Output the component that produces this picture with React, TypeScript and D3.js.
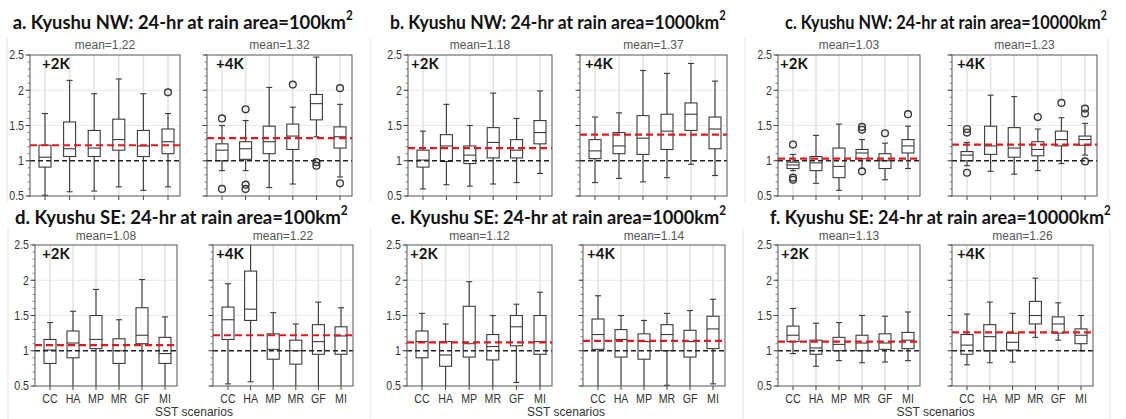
import React, { useLayoutEffect, useRef, useState } from 'react';
import * as d3 from 'd3';

type Stat = [number, number, number, number, number]; // lo, q1, median, q3, hi

const categories = ['CC', 'HA', 'MP', 'MR', 'GF', 'MI'];
const yMajorTicks = [0.5, 1, 1.5, 2, 2.5];
const yGridValues = [1.5, 2];
const warmingLabels = ['+2K', '+4K'];

const panelLetters = ['a', 'b', 'c', 'd', 'e', 'f'];
const panelRegions = ['Kyushu NW', 'Kyushu NW', 'Kyushu NW', 'Kyushu SE', 'Kyushu SE', 'Kyushu SE'];
const panelAreas = ['100', '1000', '10000', '100', '1000', '10000'];
const panelMeans = [[1.22, 1.32], [1.18, 1.37], [1.03, 1.23], [1.08, 1.22], [1.12, 1.14], [1.13, 1.26]];

// ---- a. Kyushu NW 100km2
const a2K: Stat[] = [
  [0.51, 0.91, 1.05, 1.22, 1.67],
  [0.56, 1.06, 1.17, 1.55, 2.14],
  [0.57, 1.06, 1.18, 1.43, 1.95],
  [0.63, 1.15, 1.30, 1.59, 2.16],
  [0.58, 1.06, 1.21, 1.43, 1.95],
  [0.63, 1.10, 1.27, 1.45, 1.67],
];
const a2KOut = [[], [], [], [], [], [1.97]];
const a4K: Stat[] = [
  [0.86, 1.00, 1.15, 1.24, 1.50],
  [0.86, 1.02, 1.17, 1.27, 1.57],
  [0.62, 1.10, 1.27, 1.49, 2.04],
  [0.67, 1.16, 1.35, 1.52, 1.76],
  [1.34, 1.58, 1.81, 1.94, 2.47],
  [0.77, 1.18, 1.34, 1.48, 1.80],
];
const a4KOut = [[1.60, 0.60], [1.73, 0.66, 0.60], [], [2.08], [0.98, 0.93], [2.03, 0.68]];

// ---- b. Kyushu NW 1000km2
const b2K: Stat[] = [
  [0.60, 0.91, 1.01, 1.15, 1.42],
  [0.66, 0.99, 1.21, 1.37, 1.80],
  [0.64, 0.96, 1.08, 1.21, 1.50],
  [0.67, 1.04, 1.26, 1.47, 1.96],
  [0.69, 1.04, 1.15, 1.30, 1.60],
  [0.82, 1.24, 1.40, 1.57, 1.99],
];
const b2KOut = [[], [], [], [], [], []];
const b4K: Stat[] = [
  [0.69, 1.03, 1.14, 1.30, 1.62],
  [0.75, 1.10, 1.21, 1.40, 1.68],
  [0.70, 1.09, 1.32, 1.64, 2.28],
  [0.76, 1.16, 1.42, 1.66, 2.24],
  [0.95, 1.43, 1.66, 1.82, 2.38],
  [0.79, 1.17, 1.45, 1.62, 2.13],
];
const b4KOut = [[], [], [], [], [], []];

// ---- c. Kyushu NW 10000km2
const c2K: Stat[] = [
  [0.86, 0.89, 0.94, 0.98, 1.09],
  [0.68, 0.86, 0.97, 1.06, 1.36],
  [0.58, 0.76, 0.92, 1.18, 1.52],
  [0.89, 1.03, 1.11, 1.16, 1.30],
  [0.73, 0.89, 1.00, 1.10, 1.25],
  [0.89, 1.11, 1.21, 1.30, 1.49],
];
const c2KOut = [[1.23, 0.76, 0.73], [], [], [1.48, 1.44, 0.85], [1.39], [1.66]];
const c4K: Stat[] = [
  [0.93, 1.00, 1.08, 1.13, 1.26],
  [0.85, 1.09, 1.21, 1.49, 1.93],
  [0.81, 1.05, 1.18, 1.47, 1.91],
  [0.86, 1.07, 1.16, 1.27, 1.45],
  [0.96, 1.21, 1.30, 1.42, 1.61],
  [1.08, 1.22, 1.30, 1.35, 1.53],
];
const c4KOut = [[1.45, 1.40, 0.83], [], [], [1.62], [1.82], [1.74, 1.67, 0.99]];

// ---- d. Kyushu SE 100km2
const d2K: Stat[] = [
  [0.48, 0.82, 1.01, 1.16, 1.40],
  [0.48, 0.90, 1.11, 1.28, 1.56],
  [0.48, 1.03, 1.16, 1.50, 1.87],
  [0.48, 0.82, 1.00, 1.17, 1.44],
  [0.48, 1.10, 1.22, 1.61, 2.01],
  [0.48, 0.82, 0.96, 1.19, 1.48],
];
const d2KOut = [[], [], [], [], [], []];
const d4K: Stat[] = [
  [0.53, 1.16, 1.44, 1.62, 1.95],
  [0.56, 1.43, 1.59, 2.13, 2.60],
  [0.48, 0.88, 1.02, 1.24, 1.54],
  [0.48, 0.81, 1.00, 1.15, 1.38],
  [0.48, 0.95, 1.13, 1.37, 1.69],
  [0.48, 0.95, 1.21, 1.34, 1.61],
];
const d4KOut = [[], [], [], [], [], []];

// ---- e. Kyushu SE 1000km2
const e2K: Stat[] = [
  [0.48, 0.90, 1.13, 1.28, 1.53],
  [0.48, 0.78, 0.94, 1.13, 1.38],
  [0.48, 0.91, 1.10, 1.63, 1.98],
  [0.48, 0.87, 1.06, 1.23, 1.50],
  [0.55, 1.07, 1.34, 1.50, 1.66],
  [0.48, 0.95, 1.13, 1.50, 1.83],
];
const e2KOut = [[], [], [], [], [], []];
const e4K: Stat[] = [
  [0.48, 1.02, 1.23, 1.45, 1.78],
  [0.48, 0.91, 1.16, 1.30, 1.50],
  [0.48, 0.88, 1.13, 1.24, 1.43],
  [0.51, 1.00, 1.23, 1.37, 1.53],
  [0.48, 0.91, 1.13, 1.29, 1.57],
  [0.53, 1.03, 1.31, 1.49, 1.73],
];
const e4KOut = [[], [], [], [], [], []];

// ---- f. Kyushu SE 10000km2
const f2K: Stat[] = [
  [0.96, 1.13, 1.22, 1.35, 1.60],
  [0.78, 0.95, 1.04, 1.15, 1.39],
  [0.86, 1.00, 1.09, 1.19, 1.40],
  [0.83, 1.00, 1.11, 1.22, 1.50],
  [0.84, 1.02, 1.11, 1.24, 1.49],
  [0.86, 1.03, 1.15, 1.26, 1.55],
];
const f2KOut = [[], [], [], [], [], []];
const f4K: Stat[] = [
  [0.80, 0.95, 1.08, 1.23, 1.52],
  [0.83, 1.00, 1.20, 1.37, 1.69],
  [0.84, 1.01, 1.12, 1.25, 1.53],
  [1.19, 1.38, 1.50, 1.70, 2.03],
  [1.15, 1.25, 1.38, 1.48, 1.68],
  [1.00, 1.10, 1.22, 1.31, 1.50],
];
const f4KOut = [[], [], [], [], [], []];

const panelStats = [[a2K, a4K], [b2K, b4K], [c2K, c4K], [d2K, d4K], [e2K, e4K], [f2K, f4K]];
const panelOutliers = [[a2KOut, a4KOut], [b2KOut, b4KOut], [c2KOut, c4KOut], [d2KOut, d4KOut], [e2KOut, e4KOut], [f2KOut, f4KOut]];

// ---- layout (pixels)
const rowLayout = [
  { yTop: 55, yBot: 196, titleY: 28.5, meanY: 49, sepTop: 38, sepBot: 202 },
  { yTop: 245, yBot: 386, titleY: 223.5, meanY: 239.5, sepTop: 228, sepBot: 419 },
];
// [left2K, right2K, left4K, right4K]
const plotX = [
  [30, 180, 207, 352],
  [408, 552, 580, 727],
  [778, 920, 952, 1097],
  [35, 177, 213, 353],
  [407, 552, 583, 725],
  [778, 920, 952, 1093],
];
const labelDx = [[12, 9], [3, 5], [2, 5], [7, 3], [3, 4], [3, 5]];
const titleX = [[12.7, 353], [390, 726], [785, 1107], [15, 348], [391, 726], [770, 1111]];
const sepLines = [[7, 370, 745, 1108], [8, 370, 743, 1110]];

const SANS = '"Liberation Sans", Arial, Helvetica, sans-serif';
const TITLE_FONT = 'Lato, "Open Sans", sans-serif';

function Title(props: { x0: number; x1: number; y: number; text: string }) {
  const { x0, x1, y, text } = props;
  const ref = useRef<SVGTextElement>(null);
  const [sx, setSx] = useState(1);
  useLayoutEffect(() => {
    if (ref.current) {
      const len = ref.current.getComputedTextLength();
      if (len > 0) setSx((x1 - x0) / len);
    }
  }, [x0, x1, text]);
  return (
    <text ref={ref} transform={`translate(${x0},${y}) scale(${sx},1)`} fontFamily={TITLE_FONT}
      fontWeight={700} fontSize={19.5} fill="#111">
      {text}
      <tspan fontSize={12.5} dy={-8.5}>2</tspan>
    </text>
  );
}

function SubPlot(props: {
  id: string; left: number; right: number; yTop: number; yBot: number;
  stats: Stat[]; outliers: number[][]; mean: number; label: string; lDx: number;
  showYLabels: boolean; showXLabels: boolean; meanY: number;
}) {
  const { id, left, right, yTop, yBot, stats, outliers, mean, label, lDx, showYLabels, showXLabels, meanY } = props;
  const y = d3.scaleLinear().domain([0.5, 2.5]).range([yBot, yTop]);
  const x = d3.scalePoint<string>().domain(categories).range([left + 15, right - 12]);
  const minor = d3.range(5, 26).map((v) => v / 10);
  const bw = 12;
  const cap = 3;
  return (
    <g>
      <defs>
        <clipPath id={id}>
          <rect x={left} y={yTop} width={right - left} height={yBot - yTop} />
        </clipPath>
      </defs>
      <g clipPath={`url(#${id})`}>
        {categories.map((c) => (
          <line key={c} x1={x(c)} x2={x(c)} y1={yTop} y2={yBot} stroke="#e2e2e2" strokeWidth={1.5} />
        ))}
        {yGridValues.map((v) => (
          <line key={v} x1={left} x2={right} y1={y(v)} y2={y(v)} stroke="#e8e8e8" strokeWidth={1} />
        ))}
        {stats.map((s, i) => {
          const cx = x(categories[i]) as number;
          const [lo, q1, md, q3, hi] = s;
          return (
            <g key={i} stroke="#3a3a3a" strokeWidth={1.1} fill="none">
              <line x1={cx} x2={cx} y1={y(lo)} y2={y(q1)} />
              <line x1={cx} x2={cx} y1={y(q3)} y2={y(hi)} />
              <line x1={cx - cap} x2={cx + cap} y1={y(lo)} y2={y(lo)} />
              <line x1={cx - cap} x2={cx + cap} y1={y(hi)} y2={y(hi)} />
              <rect x={cx - bw / 2} y={y(q3)} width={bw} height={y(q1) - y(q3)} fill="#fff" />
              <line x1={cx - bw / 2} x2={cx + bw / 2} y1={y(md)} y2={y(md)} />
              {outliers[i].map((o, k) => (
                <circle key={k} cx={cx} cy={y(o)} r={3.4} strokeWidth={1.4} />
              ))}
            </g>
          );
        })}
        <line x1={left} x2={right} y1={y(1)} y2={y(1)} stroke="#222" strokeWidth={1.5} strokeDasharray="5,3" />
        <line x1={left} x2={right} y1={y(mean)} y2={y(mean)} stroke="#e8161b" strokeWidth={2.2} strokeDasharray="7,4" />
      </g>
      <rect x={left} y={yTop} width={right - left} height={yBot - yTop} fill="none" stroke="#555" strokeWidth={1} />
      {minor.map((v) => (
        <line key={v} x1={left - 2.5} x2={left} y1={y(v)} y2={y(v)} stroke="#666" strokeWidth={0.8} />
      ))}
      {yMajorTicks.map((v) => (
        <line key={v} x1={left - 4.5} x2={left} y1={y(v)} y2={y(v)} stroke="#444" strokeWidth={1} />
      ))}
      {showYLabels && yMajorTicks.map((v) => (
        <text key={v} transform={`translate(${left - 6},${y(v) + 4.3}) scale(0.85,1)`} textAnchor="end"
          fontFamily={SANS} fontSize={12.5} fill="#333">{String(v)}</text>
      ))}
      {categories.map((c) => (
        <line key={c} x1={x(c)} x2={x(c)} y1={yBot} y2={yBot + 4} stroke="#444" strokeWidth={1} />
      ))}
      {showXLabels && categories.map((c) => (
        <text key={c} transform={`translate(${x(c)},${yBot + 16.5}) scale(0.85,1)`} textAnchor="middle"
          fontFamily={SANS} fontSize={12.5} fill="#333">{c}</text>
      ))}
      <text x={(left + right) / 2} y={meanY} textAnchor="middle" fontFamily={SANS} fontSize={12} fill="#555">
        {`mean=${mean.toFixed(2)}`}
      </text>
      <text x={left + lDx} y={yTop + 14} fontFamily={TITLE_FONT} fontWeight={700} fontSize={15} fill="#111">{label}</text>
    </g>
  );
}

export default function App() {
  return (
    <svg width={1126} height={419} viewBox="0 0 1126 419"
      style={{ position: 'absolute', left: 0, top: 0, background: '#fff' }}>
      <rect x={0} y={0} width={1126} height={419} fill="#fff" />
      {sepLines.map((row, r) => row.map((sx, k) => (
        <line key={`${r}-${k}`} x1={sx} x2={sx} y1={rowLayout[r].sepTop} y2={rowLayout[r].sepBot} stroke="#e4e4e4" strokeWidth={1} />
      )))}
      {panelLetters.map((letter, p) => {
        const row = rowLayout[p < 3 ? 0 : 1];
        const [tx0, tx1] = titleX[p];
        const title = `${letter}. ${panelRegions[p]}: 24-hr at rain area=${panelAreas[p]}km`;
        const px = plotX[p];
        return (
          <g key={letter}>
            <Title x0={tx0} x1={tx1} y={row.titleY} text={title} />
            {[0, 1].map((k) => (
              <SubPlot key={k} id={`clip-${p}-${k}`} left={px[k * 2]} right={px[k * 2 + 1]}
                yTop={row.yTop} yBot={row.yBot} stats={panelStats[p][k]} outliers={panelOutliers[p][k]}
                mean={panelMeans[p][k]} label={warmingLabels[k]} lDx={labelDx[p][k]}
                showYLabels={k === 0} showXLabels={p >= 3} meanY={row.meanY} />
            ))}
            {p >= 3 && (
              <text x={(px[0] + px[3]) / 2} y={416} textAnchor="middle" fontFamily={SANS} fontSize={12} fill="#333">
                SST scenarios
              </text>
            )}
          </g>
        );
      })}
    </svg>
  );
}
